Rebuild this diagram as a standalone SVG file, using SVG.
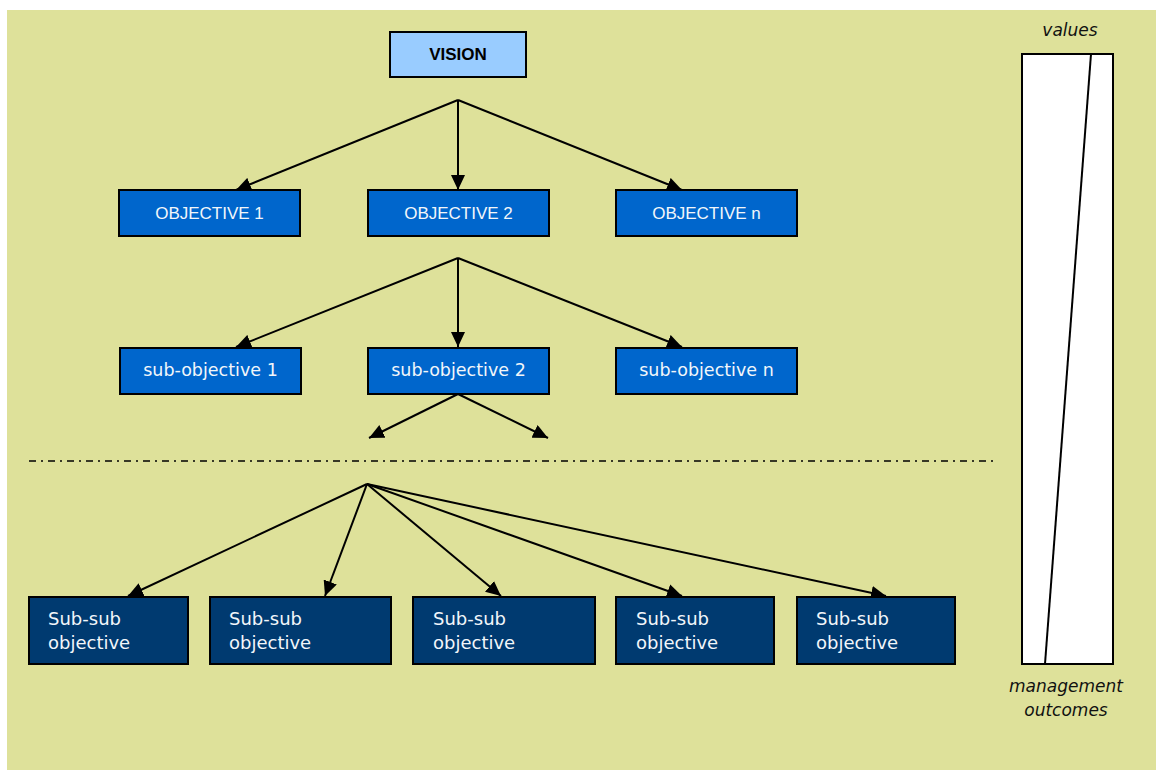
<svg xmlns="http://www.w3.org/2000/svg" width="1156" height="770" viewBox="0 0 1156 770">
  <style>
    .box { stroke: #000; stroke-width: 2; }
    .vision { fill: #99CCFF; }
    .obj { fill: #0066CC; }
    .sub { fill: #003A70; }
    .caps { font-family: "Liberation Sans", Arial, sans-serif; font-size: 17px; fill: #F2F6FA; text-anchor: middle; }
    .low { font-family: "DejaVu Sans", "Liberation Sans", sans-serif; font-size: 17.5px; fill: #F2F6FA; }
    .ss { font-size: 18px; }
    .mid { text-anchor: middle; }
    .ital { font-family: "DejaVu Sans", "Liberation Sans", sans-serif; font-size: 17px; font-style: italic; fill: #111; text-anchor: middle; }
    .conn { stroke: #000; stroke-width: 2; fill: none; marker-end: url(#arrow); }
  </style>
  <defs>
    <marker id="arrow" markerUnits="userSpaceOnUse" markerWidth="16" markerHeight="14" refX="15" refY="7" orient="auto">
      <path d="M0,0 L15,7 L0,14 Z" fill="#000"/>
    </marker>
  </defs>
  <rect x="0" y="0" width="1156" height="770" fill="#FFFFFF"/>
  <rect x="7" y="10" width="1149" height="760" fill="#DEE19A"/>

  <g id="connectors">
    <line class="conn" x1="458" y1="100" x2="236" y2="190"/>
    <line class="conn" x1="458" y1="100" x2="458" y2="190"/>
    <line class="conn" x1="458" y1="100" x2="682" y2="190"/>
    <line class="conn" x1="458" y1="258" x2="236" y2="347"/>
    <line class="conn" x1="458" y1="258" x2="458" y2="347"/>
    <line class="conn" x1="458" y1="258" x2="682" y2="347"/>
    <line class="conn" x1="458" y1="394" x2="369" y2="438"/>
    <line class="conn" x1="458" y1="394" x2="548" y2="438"/>
    <line class="conn" x1="367" y1="484" x2="128" y2="596"/>
    <line class="conn" x1="367" y1="484" x2="325" y2="596"/>
    <line class="conn" x1="367" y1="484" x2="501" y2="596"/>
    <line class="conn" x1="367" y1="484" x2="682" y2="596"/>
    <line class="conn" x1="367" y1="484" x2="886" y2="596"/>
    <line x1="29" y1="461" x2="996" y2="461" stroke="#000" stroke-width="1.5" stroke-dasharray="7 5 2 5"/>
  </g>

  <g id="vision">
    <rect class="box vision" x="390" y="32" width="136" height="45"/>
    <text x="458" y="60" font-family="Liberation Sans, Arial, sans-serif" font-size="17" font-weight="bold" fill="#000" text-anchor="middle">VISION</text>
  </g>

  <g id="objective1">
    <rect class="box obj" x="119" y="190" width="181" height="46"/>
    <text class="caps" x="209.5" y="218.5">OBJECTIVE 1</text>
  </g>
  <g id="objective2">
    <rect class="box obj" x="368" y="190" width="181" height="46"/>
    <text class="caps" x="458.5" y="218.5">OBJECTIVE 2</text>
  </g>
  <g id="objectiven">
    <rect class="box obj" x="616" y="190" width="181" height="46"/>
    <text class="caps" x="706.5" y="218.5">OBJECTIVE n</text>
  </g>

  <g id="subobjective1">
    <rect class="box obj" x="120" y="348" width="181" height="46"/>
    <text class="low mid" x="210.5" y="376">sub-objective 1</text>
  </g>
  <g id="subobjective2">
    <rect class="box obj" x="368" y="348" width="181" height="46"/>
    <text class="low mid" x="458.5" y="376">sub-objective 2</text>
  </g>
  <g id="subobjectiven">
    <rect class="box obj" x="616" y="348" width="181" height="46"/>
    <text class="low mid" x="706.5" y="376">sub-objective n</text>
  </g>

  <g id="subsub1">
    <rect class="box sub" x="29" y="597" width="159" height="67"/>
    <text class="low ss" x="48" y="625">Sub-sub</text>
    <text class="low ss" x="48" y="649">objective</text>
  </g>
  <g id="subsub2">
    <rect class="box sub" x="210" y="597" width="181" height="67"/>
    <text class="low ss" x="229" y="625">Sub-sub</text>
    <text class="low ss" x="229" y="649">objective</text>
  </g>
  <g id="subsub3">
    <rect class="box sub" x="413" y="597" width="182" height="67"/>
    <text class="low ss" x="433" y="625">Sub-sub</text>
    <text class="low ss" x="433" y="649">objective</text>
  </g>
  <g id="subsub4">
    <rect class="box sub" x="616" y="597" width="158" height="67"/>
    <text class="low ss" x="636" y="625">Sub-sub</text>
    <text class="low ss" x="636" y="649">objective</text>
  </g>
  <g id="subsub5">
    <rect class="box sub" x="797" y="597" width="158" height="67"/>
    <text class="low ss" x="816" y="625">Sub-sub</text>
    <text class="low ss" x="816" y="649">objective</text>
  </g>

  <g id="scale">
    <text class="ital" x="1070" y="36">values</text>
    <rect x="1022" y="54" width="91" height="610" fill="#FFFFFF" stroke="#000" stroke-width="2"/>
    <line x1="1091" y1="54" x2="1045" y2="664" stroke="#000" stroke-width="2"/>
    <text class="ital" x="1066" y="692">management</text>
    <text class="ital" x="1066" y="716">outcomes</text>
  </g>
</svg>
